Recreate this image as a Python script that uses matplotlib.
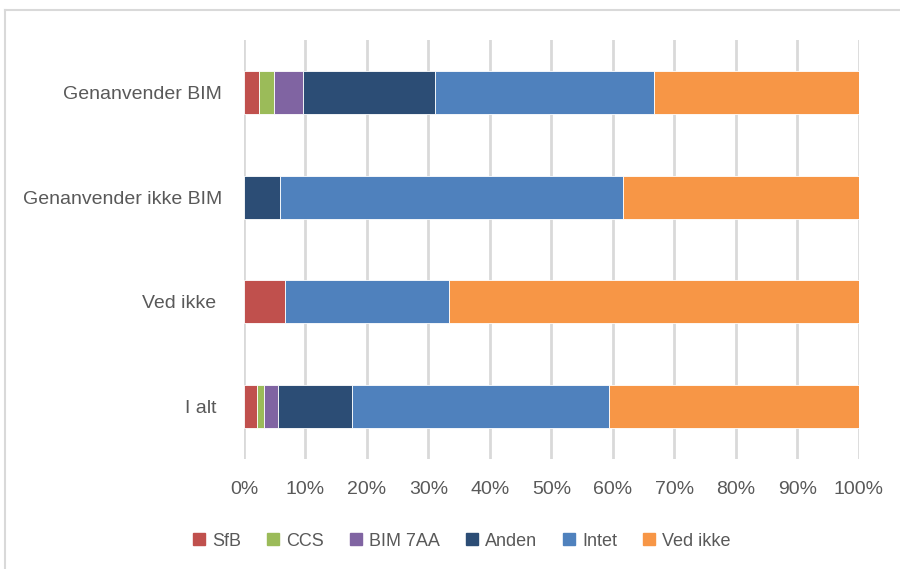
import numpy as np
import matplotlib
matplotlib.use('Agg')
import matplotlib.pyplot as plt
from matplotlib.lines import Line2D

# data (shares in %)
categories = ['Genanvender BIM', 'Genanvender ikke BIM', 'Ved ikke ', 'I alt ']
series = ['SfB', 'CCS', 'BIM 7AA', 'Anden', 'Intet', 'Ved ikke']
sfb = [2.4, 0.0, 6.7, 2.1]
ccs = [2.4, 0.0, 0.0, 1.2]
bim7aa = [4.8, 0.0, 0.0, 2.2]
anden = [21.4, 5.8, 0.0, 12.0]
intet = [35.7, 55.8, 26.6, 41.8]
ved_ikke = [33.3, 38.4, 66.7, 40.7]
colors = ['#C0504D', '#9BBB59', '#8064A2', '#2C4D75', '#4F81BD', '#F79646']
xticks = np.arange(0, 101, 10)

plt.rcParams['font.family'] = ['Liberation Sans', 'DejaVu Sans']
txt = '#595959'

fig = plt.figure(figsize=(9, 5.69), dpi=100)
ax = fig.add_axes([244 / 900, 1 - 459 / 569, (858.7 - 244) / 900, (459 - 40) / 569])

y = np.arange(len(categories))[::-1]
left = np.zeros(len(categories))
for name, vals, c in zip(series, [sfb, ccs, bim7aa, anden, intet, ved_ikke], colors):
    vals = np.array(vals)
    ax.barh(y, vals, left=left, height=0.41, color=c, edgecolor='white',
            linewidth=0.6, label=name, zorder=3)
    left += vals

ax.set_xlim(0, 100)
ax.set_ylim(-0.5, len(categories) - 0.5)
ax.set_xticks(xticks)
ax.set_xticklabels([f'{v}%' for v in xticks])
ax.set_yticks(y)
ax.set_yticklabels(categories)
ax.tick_params(axis='x', length=0, pad=16, labelsize=14, labelcolor=txt)
ax.tick_params(axis='y', length=0, pad=16, labelsize=14, labelcolor=txt)
ax.grid(axis='x', color='#d9d9d9', linewidth=2, zorder=0)
for s in ax.spines.values():
    s.set_visible(False)

handles = [plt.Rectangle((0, 0), 1, 1, color=c) for c in colors]
fig.legend(handles, series, loc='center', bbox_to_anchor=(462 / 900, 1 - 541 / 569),
           ncol=6, frameon=False, fontsize=13, labelcolor=txt,
           handlelength=0.65, handleheight=0.65, handletextpad=0.4, columnspacing=1.45)

# outer chart frame
fig.add_artist(Line2D([5 / 900, 1], [1 - 10 / 569, 1 - 10 / 569], color='#d9d9d9', lw=1.5))
fig.add_artist(Line2D([5 / 900, 5 / 900], [0, 1 - 10 / 569], color='#d9d9d9', lw=1.5))

fig.savefig('out.png', dpi=100)
